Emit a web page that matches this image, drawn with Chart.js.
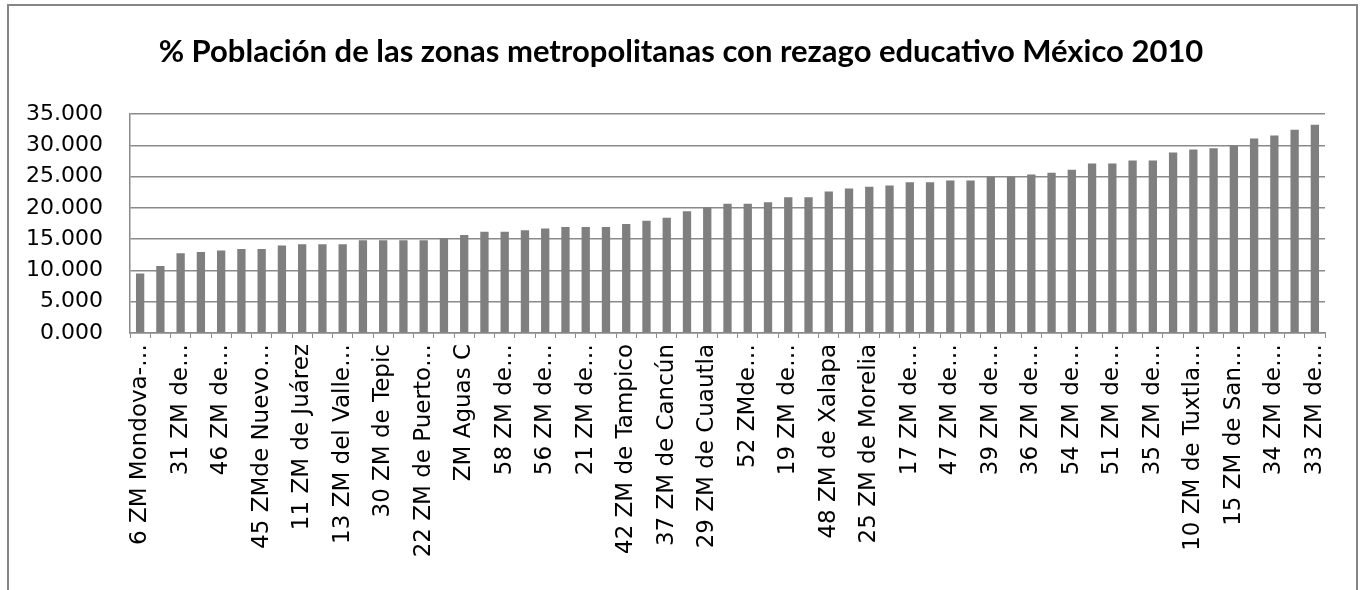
<!DOCTYPE html>
<html>
<head>
<meta charset="utf-8">
<script src="https://cdn.jsdelivr.net/npm/chart.js@4"></script>
<style>
  html, body { margin: 0; padding: 0; overflow: hidden; background: #fff; }
  #wrap { position: relative; width: 1362px; height: 590px; }
  #frame { position: absolute; left: 7px; top: 4px; width: 1347px; height: 700px; border: 2px solid #868686; }
  #chart { position: absolute; left: 0; top: 0; }
</style>
</head>
<body>
<div id="wrap">
  <div id="frame"></div>
  <canvas id="chart" width="1362" height="590"></canvas>
</div>
<script>
// 59 zonas metropolitanas, ordered by value; only every other name is printed in the picture
const categories = [
  '6 ZM Mondova-…', '', '31 ZM de…', '', '46 ZM de…', '', '45 ZMde Nuevo…', '',
  '11 ZM de Juárez', '', '13 ZM del Valle…', '', '30 ZM de Tepic', '', '22 ZM de Puerto…', '',
  'ZM Aguas C', '', '58 ZM de…', '', '56 ZM de…', '', '21 ZM de…', '',
  '42 ZM de Tampico', '', '37 ZM de Cancún', '', '29 ZM de Cuautla', '', '52 ZMde…', '',
  '19 ZM de…', '', '48 ZM de Xalapa', '', '25 ZM de Morelia', '', '17 ZM de…', '',
  '47 ZM de…', '', '39 ZM de…', '', '36 ZM de…', '', '54 ZM de…', '',
  '51 ZM de…', '', '35 ZM de…', '', '10 ZM de Tuxtla…', '', '15 ZM de San…', '',
  '34 ZM de…', '', '33 ZM de…'
];

const rezago = [
  9.50, 10.73, 12.75, 12.97, 13.20, 13.45, 13.45, 13.98, 14.20, 14.20,
  14.20, 14.83, 14.83, 14.83, 14.83, 15.20, 15.68, 16.20, 16.20, 16.42,
  16.70, 16.95, 16.95, 16.95, 17.43, 17.96, 18.44, 19.46, 20.10, 20.67,
  20.67, 20.90, 21.70, 21.70, 22.65, 23.10, 23.40, 23.60, 24.13, 24.13,
  24.40, 24.40, 24.98, 24.98, 25.35, 25.62, 26.10, 27.10, 27.10, 27.60,
  27.60, 28.87, 29.35, 29.56, 29.98, 31.10, 31.58, 32.50, 33.30
];

const yTicks = [0, 5, 10, 15, 20, 25, 30, 35];

const titleText = '% Población de las zonas metropolitanas con rezago educativo México 2010';

const gridCol = '#8a8a8a';

new Chart(document.getElementById('chart'), {
  type: 'bar',
  data: {
    labels: categories,
    datasets: [{
      label: '% rezago educativo',
      data: rezago,
      backgroundColor: '#7f7f7f',
      barPercentage: 0.41,
      categoryPercentage: 1
    }]
  },
  options: {
    responsive: false,
    animation: false,
    layout: { padding: { left: 8, right: 8, top: 0, bottom: 0 } },
    plugins: {
      legend: { display: false },
      tooltip: { enabled: false },
      title: {
        display: true,
        text: titleText,
        color: '#000',
        font: { family: 'Lato, "Open Sans", sans-serif', size: 31, weight: 'bold', lineHeight: 1.2 },
        padding: { top: 33, bottom: 44 }
      }
    },
    scales: {
      x: {
        afterFit: s => { s.height = 257; },
        grid: { display: true, drawOnChartArea: false, drawTicks: true, tickLength: 5, color: gridCol, offset: true },
        border: { display: true, color: gridCol, width: 1.5 },
        ticks: {
          autoSkip: false,
          minRotation: 90,
          maxRotation: 90,
          padding: 6,
          color: '#000',
          font: { family: '"DejaVu Sans", sans-serif', size: 23 }
        }
      },
      y: {
        min: 0,
        max: 35,
        afterFit: s => { s.width = 122; },
        afterBuildTicks: s => { s.ticks = yTicks.map(v => ({ value: v })); },
        grid: { color: gridCol, lineWidth: 1.5, drawTicks: false },
        border: { display: true, color: gridCol, width: 1.5 },
        ticks: {
          padding: 27,
          color: '#000',
          font: { family: '"DejaVu Sans", sans-serif', size: 22 },
          callback: v => Number(v).toFixed(3)
        }
      },
      // empty spacer on the right so the plot ends where the reference's does
      y2: {
        position: 'right',
        afterFit: s => { s.width = 29; },
        grid: { display: false },
        border: { display: false },
        ticks: { display: false }
      }
    }
  }
});
</script>
</body>
</html>
